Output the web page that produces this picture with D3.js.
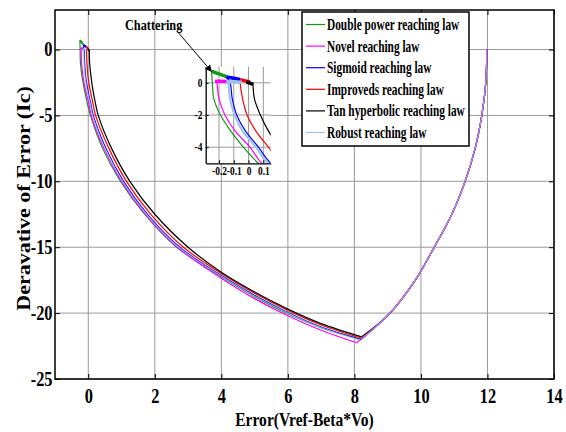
<!DOCTYPE html>
<html>
<head>
<meta charset="utf-8">
<script src="https://cdn.jsdelivr.net/npm/d3@7"></script>
<style>
  body { margin: 0; background: #fff; }
  svg { display: block; }
  text { font-family: "Liberation Serif", "Times New Roman", serif; font-weight: bold; fill: #000; }
</style>
</head>
<body>
<svg width="566" height="432"></svg>
<script>
// ---- data ----
const xTicks = [0, 2, 4, 6, 8, 10, 12, 14];
const xTickLabels = ["0", "2", "4", "6", "8", "10", "12", "14"];
const yTicks = [0, -5, -10, -15, -20, -25];
const yTickLabels = ["0", "-5", "-10", "-15", "-20", "-25"];
const insetXTicks = [-0.2, -0.1, 0, 0.1];
const insetXTickLabels = ["-0.2", "-0.1", "0", "0.1"];
const insetYTicks = [0, -2, -4];
const insetYTickLabels = ["0", "-2", "-4"];

const seriesNames = ["Double power reaching law", "Novel reaching law", "Sigmoid reaching law",
  "Improveds reaching law", "Tan hyperbolic reaching law", "Robust reaching law"];
const seriesColors = ["#119911", "#ff00ff", "#0000ff", "#ff0000", "#000000", "#9ec2ee"];

// shared branch: error starts at 12 and falls to the minimum
const rightBranch = [[11.98, 0], [11.95, -2.5], [11.83, -5], [11.63, -7.5], [11.33, -10],
  [10.93, -12.5], [10.4, -15], [9.83, -17.5], [9.07, -20]];

// left branches, from the minimum up to the origin
const doublePowerPts = [[8.2, -22.0], [7, -21.1], [6, -20.05], [5, -18.75], [4, -17.25], [2.66, -15],
  [1.7, -12.5], [0.97, -10], [0.43, -7.5], [0.067, -5], [-0.035, -4], [-0.12, -3], [-0.19, -2],
  [-0.235, -1], [-0.245, 0], [-0.25, 0.72]];
const novelPts = [[8.07, -22.25], [7, -21.3], [6, -20.2], [5, -18.9], [4, -17.35], [2.68, -15],
  [1.72, -12.5], [1.0, -10], [0.47, -7.5], [0.09, -5], [0.01, -4], [-0.09, -3], [-0.16, -2],
  [-0.2, -1], [-0.215, 0], [-0.22, 0.1]];
const sigmoidPts = [[8.2, -22.0], [7, -21.05], [6, -19.95], [5, -18.65], [4, -17.15], [2.75, -15],
  [1.78, -12.5], [1.06, -10], [0.53, -7.5], [0.15, -5], [0.067, -4], [-0.02, -3], [-0.08, -2],
  [-0.11, -1], [-0.125, 0], [-0.15, 0.36]];
const improvedPts = [[8.22, -21.9], [7, -20.9], [6, -19.8], [5, -18.5], [4, -17.0], [2.86, -15],
  [1.88, -12.5], [1.15, -10], [0.62, -7.5], [0.22, -5], [0.135, -4], [0.05, -3], [-0.01, -2],
  [-0.04, -1], [-0.057, 0], [-0.057, 0.2]];
const tanhPts = [[8.22, -21.8], [7, -20.8], [6, -19.7], [5, -18.4], [4, -16.9], [3.0, -15],
  [2.0, -12.5], [1.25, -10], [0.7, -7.5], [0.3, -5], [0.21, -4], [0.135, -3], [0.08, -2],
  [0.04, -1], [0.03, 0]];
const robustPts = [[8.18, -22.05], [7, -21.1], [6, -20.0], [5, -18.7], [4, -17.2], [2.72, -15],
  [1.75, -12.5], [1.03, -10], [0.5, -7.5], [0.13, -5], [0.05, -4], [-0.04, -3], [-0.095, -2],
  [-0.125, -1], [-0.14, 0], [-0.15, 0.06]];

// chattering near the origin
const doublePowerChat = [[-0.25, 0.72], [-0.22, 0.62], [-0.19, 0.52], [-0.15, 0.38]];
const novelChat = [[-0.227, 0.1], [-0.19, 0.1], [-0.148, 0.08]];
const sigmoidChat = [[-0.15, 0.36], [-0.1, 0.28], [-0.057, 0.2]];
const improvedChat = [[-0.057, 0.2], [-0.02, 0.12], [0.01, 0.05]];
const tanhChat = [[-0.015, 0.05], [0.01, -0.02], [0.03, -0.1]];
const robustChat = [[-0.15, 0.06], [-0.1, 0.05], [-0.045, 0.04]];

const branches = [doublePowerPts, novelPts, sigmoidPts, improvedPts, tanhPts, robustPts];
const chats = [doublePowerChat, novelChat, sigmoidChat, improvedChat, tanhChat, robustChat];

// ---- layout ----
const margin = { top: 10, right: 12, bottom: 53, left: 55 },
  width = 566 - margin.left - margin.right,
  height = 432 - margin.top - margin.bottom;
const sx = 0.82; // the figure's text is squeezed horizontally

const svg = d3.select("svg")
  .append("g")
  .attr("transform", `translate(${margin.left},${margin.top})`);

const x = d3.scaleLinear().domain([-1, 14]).range([0, width]);
const y = d3.scaleLinear().domain([-25, 3]).range([height, 0]);

svg.append("clipPath").attr("id", "plotClip")
  .append("rect").attr("width", width).attr("height", height);

// grid
svg.append("g").selectAll("line").data(xTicks).join("line")
  .attr("x1", d => x(d)).attr("x2", d => x(d)).attr("y1", 0).attr("y2", height)
  .attr("stroke", "#9a9a9a").attr("stroke-width", 1);
svg.append("g").selectAll("line").data(yTicks).join("line")
  .attr("y1", d => y(d)).attr("y2", d => y(d)).attr("x1", 0).attr("x2", width)
  .attr("stroke", "#9a9a9a").attr("stroke-width", 1);

// axes, ticks inward
const xAxis = svg.append("g").attr("transform", `translate(0,${height})`)
  .call(d3.axisBottom(x).tickValues(xTicks).tickFormat((d, i) => xTickLabels[i])
    .tickSizeInner(-5).tickSizeOuter(0).tickPadding(10));
const yAxis = svg.append("g")
  .call(d3.axisLeft(y).tickValues(yTicks).tickFormat((d, i) => yTickLabels[i])
    .tickSizeInner(-5).tickSizeOuter(0).tickPadding(3));
svg.append("g")
  .call(d3.axisTop(x).tickValues(xTicks).tickSizeInner(-5).tickSizeOuter(0).tickFormat(""));
svg.append("g").attr("transform", `translate(${width},0)`)
  .call(d3.axisRight(y).tickValues(yTicks).tickSizeInner(-5).tickSizeOuter(0).tickFormat(""));

[xAxis, yAxis].forEach(a => {
  a.attr("font-size", 20).attr("font-family", null);
  a.selectAll("text").attr("transform", `scale(${sx},1)`);
});
svg.selectAll(".domain").remove();
svg.selectAll(".tick line").attr("stroke", "#000");

// curves
const line = d3.line().x(d => x(d[0])).y(d => y(d[1])).curve(d3.curveCatmullRom);
const lineLin = d3.line().x(d => x(d[0])).y(d => y(d[1]));
const curves = svg.append("g").attr("clip-path", "url(#plotClip)");
const opac = i => (i === 5 ? 0.7 : 1);

// falling branch drawn first, light colours on top so it reads violet
[4, 3, 2, 0, 1, 5].forEach(i => {
  curves.append("path").datum(rightBranch.concat([branches[i][0]]))
    .attr("fill", "none").attr("stroke", seriesColors[i]).attr("stroke-opacity", opac(i))
    .attr("stroke-width", 1.2).attr("d", line);
});
branches.forEach((pts, i) => {
  curves.append("path").datum(pts)
    .attr("fill", "none").attr("stroke", seriesColors[i]).attr("stroke-opacity", opac(i))
    .attr("stroke-width", 1.2).attr("d", line);
  curves.append("path").datum(chats[i])
    .attr("fill", "none").attr("stroke", seriesColors[i])
    .attr("stroke-width", 2).attr("d", lineLin);
});

// plot box
svg.append("rect").attr("width", width).attr("height", height)
  .attr("fill", "none").attr("stroke", "#000").attr("stroke-width", 1.5);

// ---- inset zoom on the origin ----
const inset = { x: 150.7, y: 56.7, w: 65, h: 96.6 };
const ix = d3.scaleLinear().domain([-0.29, 0.15]).range([0, inset.w]);
const iy = d3.scaleLinear().domain([-5, 1]).range([inset.h, 0]);
const ig = svg.append("g").attr("transform", `translate(${inset.x},${inset.y})`);

ig.append("clipPath").attr("id", "insetClip")
  .append("rect").attr("width", inset.w).attr("height", inset.h);
ig.append("rect").attr("width", inset.w).attr("height", inset.h).attr("fill", "#fff");

ig.append("g").selectAll("line").data(insetXTicks).join("line")
  .attr("x1", d => ix(d)).attr("x2", d => ix(d)).attr("y1", 0).attr("y2", inset.h)
  .attr("stroke", "#9a9a9a");
ig.append("g").selectAll("line").data(insetYTicks).join("line")
  .attr("y1", d => iy(d)).attr("y2", d => iy(d)).attr("x1", 0).attr("x2", inset.w)
  .attr("stroke", "#9a9a9a");

const iline = d3.line().x(d => ix(d[0])).y(d => iy(d[1])).curve(d3.curveCatmullRom);
const ilineLin = d3.line().x(d => ix(d[0])).y(d => iy(d[1]));
const icurves = ig.append("g").attr("clip-path", "url(#insetClip)");
branches.forEach((pts, i) => {
  icurves.append("path").datum(pts)
    .attr("fill", "none").attr("stroke", seriesColors[i])
    .attr("stroke-width", i === 5 ? 2 : 1.2).attr("d", iline);
});
branches.forEach((pts, i) => {
  icurves.append("path").datum(chats[i])
    .attr("fill", "none").attr("stroke", seriesColors[i])
    .attr("stroke-width", 3.5).attr("d", ilineLin);
});

const ixAxis = ig.append("g").attr("transform", `translate(0,${inset.h})`)
  .call(d3.axisBottom(ix).tickValues(insetXTicks).tickFormat((d, i) => insetXTickLabels[i])
    .tickSizeInner(-3).tickSizeOuter(0).tickPadding(4));
const iyAxis = ig.append("g")
  .call(d3.axisLeft(iy).tickValues(insetYTicks).tickFormat((d, i) => insetYTickLabels[i])
    .tickSizeInner(-3).tickSizeOuter(0).tickPadding(4));
[ixAxis, iyAxis].forEach(a => {
  a.attr("font-size", 11.5).attr("font-family", null);
  a.selectAll("text").attr("transform", `scale(${sx},1)`);
  a.selectAll(".tick line").attr("stroke", "#000");
  a.select(".domain").attr("stroke", "#000").attr("stroke-width", 1.3);
});

// chattering annotation
svg.append("defs").append("marker")
  .attr("id", "arrowHead").attr("viewBox", "0 0 10 10").attr("refX", 9).attr("refY", 5)
  .attr("markerWidth", 7).attr("markerHeight", 7).attr("orient", "auto")
  .append("path").attr("d", "M0,0 L10,5 L0,10 Z").attr("fill", "#000");
svg.append("line")
  .attr("x1", 122).attr("y1", 21).attr("x2", 156.5).attr("y2", 61.5)
  .attr("stroke", "#000").attr("stroke-width", 1).attr("marker-end", "url(#arrowHead)");
svg.append("text")
  .attr("transform", `translate(70,20) scale(${sx},1)`)
  .style("font-size", "15px")
  .text("Chattering");

// legend
const legend = svg.append("g");
legend.append("rect").attr("x", 247).attr("y", 2).attr("width", 167).attr("height", 134)
  .attr("fill", "#fff").attr("stroke", "#000").attr("stroke-width", 1.5);
seriesNames.forEach((name, i) => {
  const ly = 14.5 + i * 21.6;
  legend.append("line").attr("x1", 251).attr("x2", 270).attr("y1", ly).attr("y2", ly)
    .attr("stroke", seriesColors[i]).attr("stroke-width", 1.2);
  legend.append("text")
    .attr("transform", `translate(272,${ly + 5.5}) scale(0.71,1)`)
    .style("font-size", "16px")
    .text(name);
});

// axis labels
svg.append("text")
  .attr("transform", `translate(${width / 2},${height + 47}) scale(${sx},1)`)
  .attr("text-anchor", "middle")
  .style("font-size", "19px")
  .text("Error(Vref-Beta*Vo)");

svg.append("text")
  .attr("transform", `translate(-25,${height / 2 + 4}) scale(${sx},1) rotate(-90)`)
  .attr("text-anchor", "middle")
  .style("font-size", "22px")
  .text("Deravative of Error (Ic)");
</script>
</body>
</html>
